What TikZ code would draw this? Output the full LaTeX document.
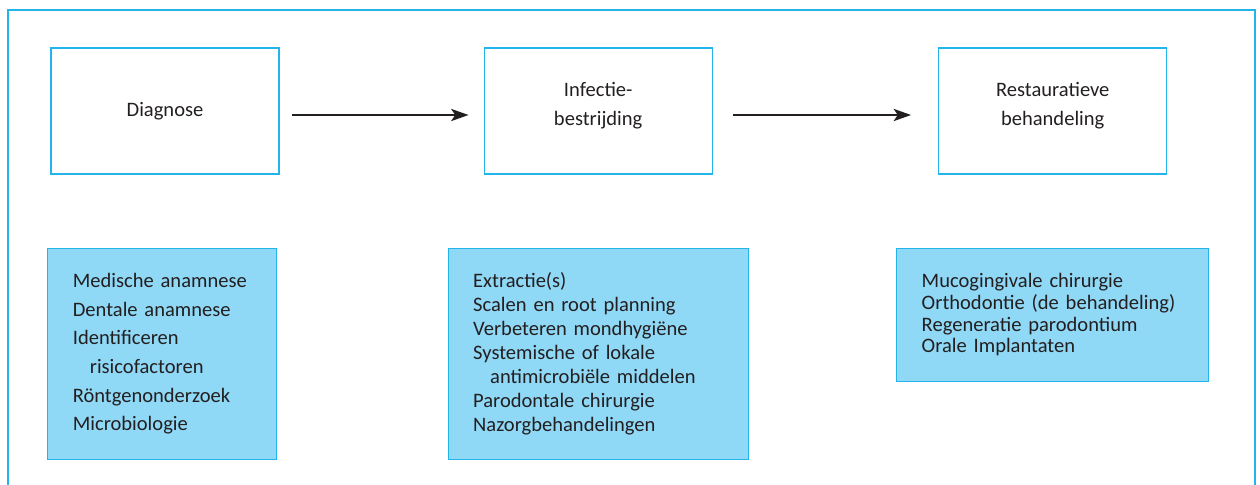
\documentclass[tikz,border=0pt]{standalone}
\usepackage{fontspec}
\setmainfont{Carlito}
\usepackage{tikz}
\usetikzlibrary{shapes.geometric, arrows.meta}
\usetikzlibrary{positioning}
\definecolor{framecyan}{HTML}{22B5EC}
\definecolor{boxfill}{HTML}{8FD8F6}
\definecolor{textgrey}{HTML}{231F20}
\tikzstyle{phase} = [rectangle, minimum width=171pt, minimum height=94.5pt, align=center, draw=framecyan, line width=0.9pt, text=textgrey, font=\fontsize{15.4}{21.7}\selectfont]
\tikzstyle{measures} = [rectangle, minimum height=158.25pt, inner xsep=18.75pt, inner ysep=0pt, align=left, draw=framecyan, fill=boxfill, line width=0.9pt, text=textgrey, font=\fontsize{15.4}{21.5}\selectfont]
\tikzstyle{arrow} = [line width=2.1pt, -{Stealth[length=13pt, width=9pt, inset=3pt]}, textgrey]
\tikzstyle{frame} = [draw=framecyan, line width=0.9pt]

\begin{document}
\begin{tikzpicture}[x=0.75pt, y=-0.75pt]
		\useasboundingbox (0,0) rectangle (1260,485);
		\draw[frame] (8,485) |- (1255,10) -- (1255,485);

		\node (diagnose) [phase] at (165,111) {Diagnose};
		\node (infection_control) [phase, text depth=10pt, right=153pt of diagnose] {Infectie-\\bestrijding};
		\node (restorative) [phase, text depth=10pt, right=169pt of infection_control] {Restauratieve\\behandeling};

		\node (diagnose_list) [measures, text width=134.25pt, below=54.75pt of diagnose, xshift=-2pt] {Medische anamnese\\Dentale anamnese\\Identificeren\\\hspace*{12.75pt}risicofactoren\\Röntgenonderzoek\\Microbiologie};
		\node (infection_list) [measures, text width=187.5pt, font=\fontsize{15.4}{17.9}\selectfont, below=54.75pt of infection_control] {Extractie(s)\\Scalen en root planning\\Verbeteren mondhygiëne\\Systemische of lokale\\\hspace*{12.75pt}antimicrobiële middelen\\Parodontale chirurgie\\Nazorgbehandelingen};
		\node (restorative_list) [measures, text width=196.5pt, minimum height=99.75pt, font=\fontsize{15.4}{16.3}\selectfont, below=54.75pt of restorative] {Mucogingivale chirurgie\\Orthodontie (de behandeling)\\Regeneratie parodontium\\Orale Implantaten};

		\draw [arrow, shorten <=9pt, shorten >=11.25pt] ([yshift=-3pt]diagnose.east) -- ([yshift=-3pt]infection_control.west);
		\draw [arrow, shorten <=15pt, shorten >=20.25pt] ([yshift=-3pt]infection_control.east) -- ([yshift=-3pt]restorative.west);
	\end{tikzpicture}
\end{document}
